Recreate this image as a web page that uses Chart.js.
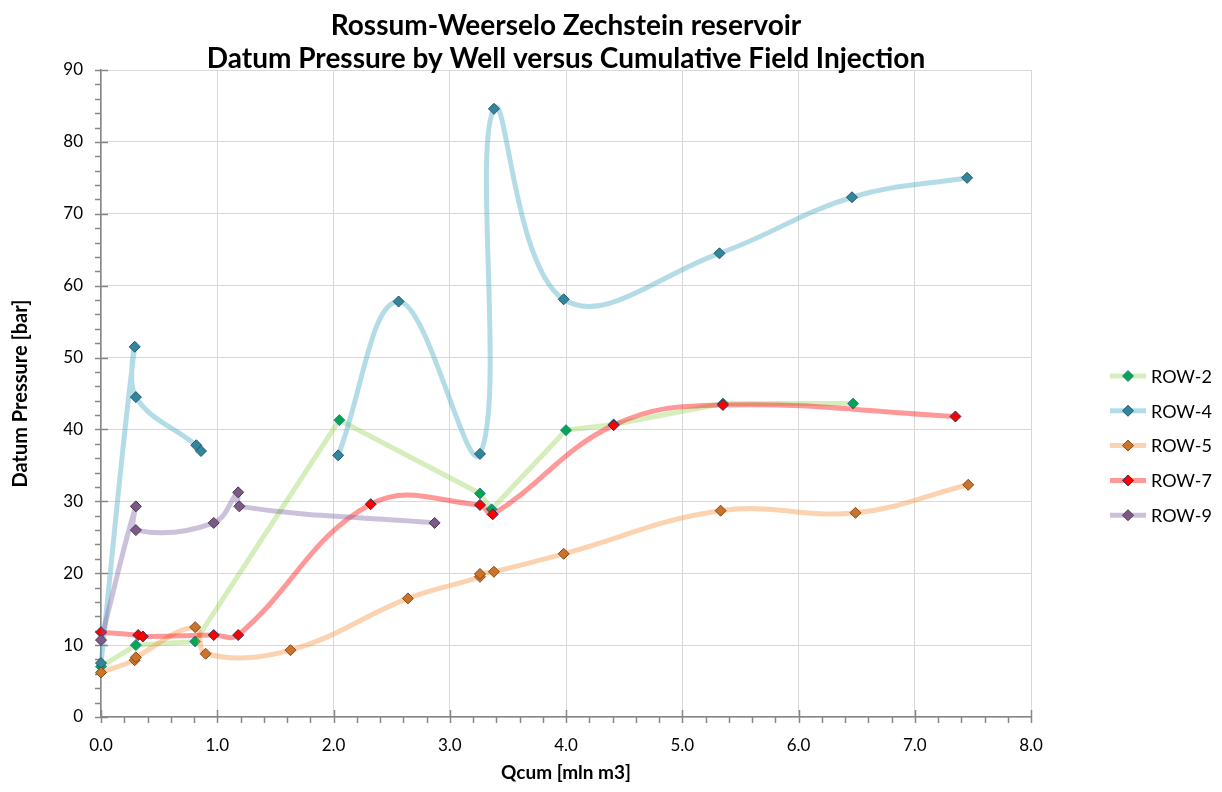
<!DOCTYPE html>
<html>
<head>
<meta charset="utf-8">
<script src="https://cdn.jsdelivr.net/npm/chart.js@4.4.1/dist/chart.umd.min.js"></script>
<style>
  html, body { margin: 0; padding: 0; background: #fff; }
</style>
</head>
<body>
<canvas id="chart" width="1222" height="792"></canvas>
<script>
// --- Data ---
const TITLE_LINES = ['Rossum-Weerselo Zechstein reservoir', 'Datum Pressure by Well versus Cumulative Field Injection'];
const X_TITLE = 'Qcum [mln m3]';
const Y_TITLE = 'Datum Pressure [bar]';
const SERIES_NAMES = ['ROW-2', 'ROW-4', 'ROW-5', 'ROW-7', 'ROW-9'];

const row2X = [0, 0.30, 0.81, 2.05, 3.26, 3.36, 4.00, 4.41, 5.35, 6.47];
const row2Y = [7.0, 10.0, 10.5, 41.3, 31.1, 28.9, 39.9, 40.7, 43.6, 43.6];

// null = gap in the line
const row4X = [0, 0.29, 0.30, 0.82, 0.86, null, 2.04, 2.56, 3.26, 3.38, 3.98, 5.32, 6.46, 7.45];
const row4Y = [7.5, 51.5, 44.5, 37.8, 37.0, null, 36.4, 57.8, 36.6, 84.6, 58.1, 64.5, 72.3, 75.0];

const row5X = [0, 0.29, 0.30, 0.81, 0.90, 1.63, 2.64, 3.26, 3.26, 3.38, 3.98, 5.33, 6.49, 7.46];
const row5Y = [6.2, 7.9, 8.3, 12.5, 8.8, 9.3, 16.5, 19.5, 19.9, 20.2, 22.7, 28.7, 28.4, 32.3];

const row7X = [0, 0.32, 0.36, 0.97, 1.18, 2.32, 3.26, 3.37, 4.41, 5.35, 7.35];
const row7Y = [11.8, 11.4, 11.2, 11.4, 11.4, 29.6, 29.5, 28.2, 40.6, 43.4, 41.8];

const row9X = [0, 0.30, 0.30, 0.97, 1.18, 1.19, 2.87];
const row9Y = [10.7, 29.3, 26.0, 27.0, 31.25, 29.3, 27.0];

// --- Styl ---
const GRID_COLOR = '#d9d9d9';
const AXIS_COLOR = '#878787';
const FONT = 'Lato';
const LEGEND_X = 1110;
const LEGEND_TOP = 376;
const LEGEND_STEP = 34.8;

function pts(xs, ys) {
  return xs.map((x, i) => ({ x: x, y: ys[i] }));
}

function series(i, xs, ys, line, fill, edge, tension) {
  return {
    label: SERIES_NAMES[i],
    data: pts(xs, ys),
    borderColor: line,
    borderWidth: 5,
    tension: tension,
    spanGaps: false,
    clip: false,
    pointStyle: 'rectRot',
    pointRadius: 5.5,
    pointBorderWidth: 1,
    pointBackgroundColor: fill,
    pointBorderColor: edge,
    order: 5 - i // later wells on top
  };
}

// minor/major tick marks on both axes
const axisTicks = {
  id: 'axisTicks',
  beforeDatasetsDraw(chart) {
    const { ctx, chartArea: a, scales: { x, y } } = chart;
    ctx.save();
    ctx.strokeStyle = AXIS_COLOR;
    ctx.lineWidth = 1.5;
    ctx.beginPath();
    for (let v = 0; v <= y.max; v += 2) {
      const py = Math.round(y.getPixelForValue(v)) + 0.5;
      ctx.moveTo(a.left - 6, py);
      ctx.lineTo(a.left + (v % 10 === 0 ? 7 : 0), py);
    }
    for (let k = 0; k <= x.max * 5; k++) {
      const px = Math.round(x.getPixelForValue(k / 5)) + 0.5;
      ctx.moveTo(px, a.bottom + 6);
      ctx.lineTo(px, a.bottom - (k % 5 === 0 ? 7 : 0));
    }
    ctx.stroke();
    ctx.restore();
  }
};

// legenda po prawej stronie: linia + romb
const sideLegend = {
  id: 'sideLegend',
  afterDraw(chart) {
    const ctx = chart.ctx;
    ctx.save();
    chart.data.datasets.forEach((ds, i) => {
      const y = LEGEND_TOP + i * LEGEND_STEP;
      ctx.strokeStyle = ds.borderColor;
      ctx.lineWidth = ds.borderWidth;
      ctx.beginPath();
      ctx.moveTo(LEGEND_X, y);
      ctx.lineTo(LEGEND_X + 36, y);
      ctx.stroke();

      const cx = LEGEND_X + 18, r = ds.pointRadius;
      ctx.beginPath();
      ctx.moveTo(cx - r, y);
      ctx.lineTo(cx, y - r);
      ctx.lineTo(cx + r, y);
      ctx.lineTo(cx, y + r);
      ctx.closePath();
      ctx.fillStyle = ds.pointBackgroundColor;
      ctx.fill();
      ctx.strokeStyle = ds.pointBorderColor;
      ctx.lineWidth = 1;
      ctx.stroke();

      ctx.fillStyle = '#000';
      ctx.font = '18px ' + FONT;
      ctx.textBaseline = 'middle';
      ctx.fillText(ds.label, LEGEND_X + 41, y + 1);
    });
    ctx.restore();
  }
};

new Chart(document.getElementById('chart'), {
  type: 'line',
  data: {
    datasets: [
      series(0, row2X, row2Y, 'rgba(146, 208, 80, 0.38)', '#00a650', '#31809a', 0),
      series(1, row4X, row4Y, 'rgba(75, 172, 198, 0.42)', '#31859c', '#215968', 0.4),
      series(2, row5X, row5Y, 'rgba(247, 150, 70, 0.42)', '#c8742e', '#8a4a10', 0.4),
      series(3, row7X, row7Y, 'rgba(255, 0, 0, 0.4)', '#ff0000', '#1f3864', 0.4),
      series(4, row9X, row9Y, 'rgba(128, 100, 162, 0.4)', '#7b5a88', '#4f3450', 0.4)
    ]
  },
  options: {
    responsive: false,
    animation: false,
    events: [],
    layout: { padding: { left: 0, right: 191, top: 0, bottom: 0 } },
    plugins: {
      legend: { display: false },
      tooltip: { enabled: false },
      title: {
        display: true,
        fullSize: false,
        text: TITLE_LINES,
        color: '#000',
        font: { family: FONT, size: 28, weight: 'bold', lineHeight: '33px' },
        padding: { top: 9, bottom: -5 }
      }
    },
    scales: {
      x: {
        type: 'linear',
        min: 0,
        max: 8,
        afterFit: s => { s.height = 75; },
        ticks: {
          stepSize: 1,
          callback: v => Number(v).toFixed(1),
          padding: 18,
          color: '#000',
          font: { family: FONT, size: 17 }
        },
        grid: { color: GRID_COLOR, lineWidth: 1, drawTicks: false },
        border: { color: AXIS_COLOR, width: 1.5 },
        title: {
          display: true,
          text: X_TITLE,
          color: '#000',
          font: { family: FONT, size: 19, weight: 'bold' },
          padding: { top: 0, bottom: 8 }
        }
      },
      y: {
        type: 'linear',
        min: 0,
        max: 90,
        afterFit: s => { s.width = 101; },
        ticks: {
          stepSize: 10,
          padding: 18,
          color: '#000',
          font: { family: FONT, size: 17 }
        },
        grid: { color: GRID_COLOR, lineWidth: 1, drawTicks: false },
        border: { color: AXIS_COLOR, width: 1.5 },
        title: {
          display: true,
          text: Y_TITLE,
          color: '#000',
          font: { family: FONT, size: 20, weight: 'bold' },
          padding: { top: 9, bottom: 0 }
        }
      }
    }
  },
  plugins: [axisTicks, sideLegend]
});
</script>
</body>
</html>
